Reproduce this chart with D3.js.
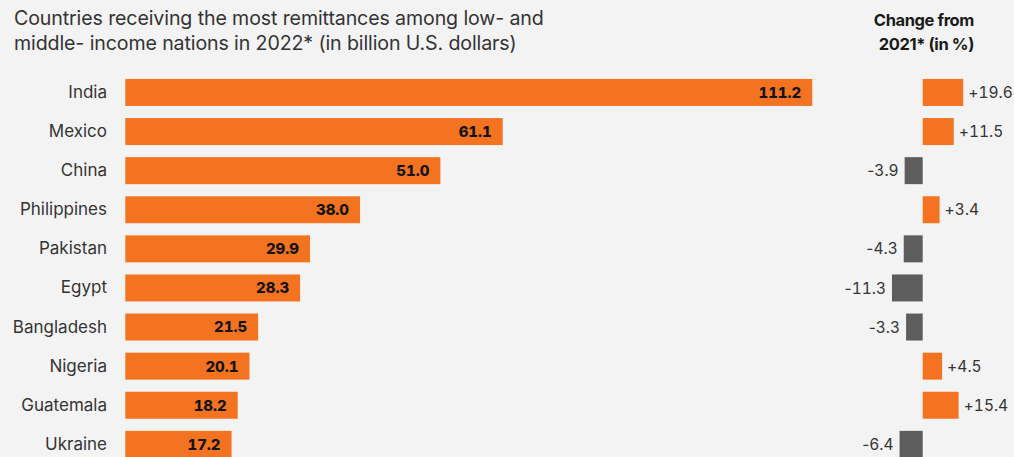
<!DOCTYPE html>
<html>
<head>
<meta charset="utf-8">
<script src="https://cdn.jsdelivr.net/npm/d3@7/dist/d3.min.js"></script>
<style>
  html, body { margin: 0; padding: 0; background: #f3f3f3; }
  svg { display: block; font-family: Inter, "Noto Sans", sans-serif; }
  .num { font-variant-numeric: tabular-nums; }
  .sign { font-variant-numeric: normal; }
</style>
</head>
<body>
<svg id="chart" width="1014" height="457"></svg>
<script>
// Remittances received in 2022 (billion US$) and change from 2021 (%)
const countries = ["India", "Mexico", "China", "Philippines", "Pakistan", "Egypt", "Bangladesh", "Nigeria", "Guatemala", "Ukraine"];
const remittances = [111.2, 61.1, 51.0, 38.0, 29.9, 28.3, 21.5, 20.1, 18.2, 17.2];
const changes = [19.6, 11.5, -3.9, 3.4, -4.3, -11.3, -3.3, 4.5, 15.4, -6.4];
const titleLines = ["Countries receiving the most remittances among low- and", "middle- income nations in 2022* (in billion U.S. dollars)"];
const changeHeader = ["Change from", "2021* (in %)"];

const ORANGE = "#f47321";
const GREY = "#5d5d5d";
const TEXT = "#333333";

const rows = countries.map((c, i) => ({ country: c, value: remittances[i], change: changes[i] }));

const svg = d3.select("#chart");

const y = d3.scaleBand()
  .domain(countries)
  .range([72.9, 72.9 + 10 * 39.1])
  .paddingInner(0.31)
  .paddingOuter(0.155);

const x = d3.scaleLinear().domain([0, 120]).range([125.3, 866.6]);

// Change bars grow from a shared baseline; length follows the square root of the change
const zeroX = 922.7;
const cx = d3.scaleSqrt().domain([0, 20]).range([0, 40.9]);

// Title
svg.append("g").selectAll("text")
  .data(titleLines)
  .join("text")
  .attr("x", 14)
  .attr("y", (d, i) => 25 + i * 25)
  .attr("fill", TEXT)
  .attr("font-size", 19.6)
  .attr("letter-spacing", -0.12)
  .text(d => d);

// Header for the change column
svg.append("g").selectAll("text")
  .data(changeHeader)
  .join("text")
  .attr("x", 974)
  .attr("y", (d, i) => 26 + i * 24)
  .attr("text-anchor", "end")
  .attr("fill", "#1a1a1a")
  .attr("font-size", 16.5)
  .attr("font-weight", 700)
  .attr("letter-spacing", -0.4)
  .text(d => d);

// Country axis (labels only)
const yAxis = d3.axisLeft(y).tickSize(0).tickPadding(0);
const axisG = svg.append("g")
  .attr("transform", "translate(107,0)")
  .call(yAxis);
axisG.select(".domain").remove();
axisG.selectAll("text")
  .attr("fill", TEXT)
  .attr("font-size", 17)
  .attr("font-family", "Inter, 'Noto Sans', sans-serif");

// Main bars
const row = svg.append("g").selectAll("g")
  .data(rows)
  .join("g");

row.append("rect")
  .attr("x", x(0))
  .attr("y", d => y(d.country))
  .attr("width", d => x(d.value) - x(0))
  .attr("height", y.bandwidth())
  .attr("fill", ORANGE);

row.append("text")
  .attr("class", "num")
  .attr("x", d => x(d.value) - 11)
  .attr("y", d => y(d.country) + y.bandwidth() / 2)
  .attr("dy", "0.36em")
  .attr("text-anchor", "end")
  .attr("fill", "#141414")
  .attr("font-size", 15)
  .attr("font-weight", 800)
  .text(d => d.value.toFixed(1));

// Change bars
row.append("rect")
  .attr("x", d => d.change >= 0 ? zeroX : zeroX - cx(-d.change))
  .attr("y", d => y(d.country))
  .attr("width", d => cx(Math.abs(d.change)))
  .attr("height", y.bandwidth())
  .attr("fill", d => d.change >= 0 ? ORANGE : GREY);

const changeLabels = row.append("text")
  .attr("class", "num")
  .attr("x", d => d.change >= 0 ? zeroX + cx(d.change) + 5 : zeroX - cx(-d.change) - 6)
  .attr("y", d => y(d.country) + y.bandwidth() / 2)
  .attr("dy", "0.36em")
  .attr("text-anchor", d => d.change >= 0 ? "start" : "end")
  .attr("fill", TEXT)
  .attr("font-size", 15.5);

changeLabels.append("tspan")
  .attr("class", "sign")
  .text(d => d.change >= 0 ? "+" : "-");

changeLabels.append("tspan")
  .text(d => Math.abs(d.change).toFixed(1));
</script>
</body>
</html>
